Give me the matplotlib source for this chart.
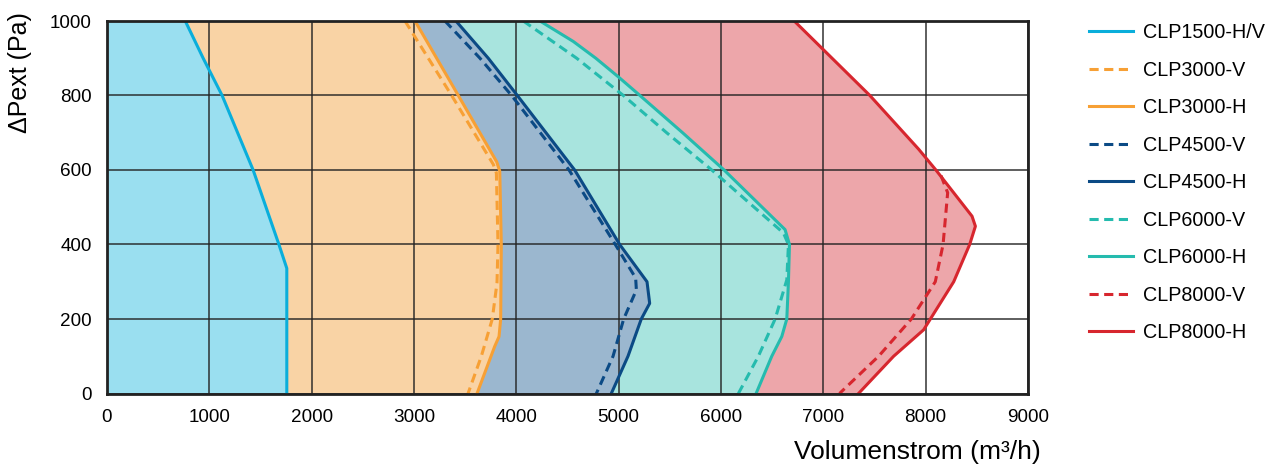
import matplotlib
matplotlib.use("Agg")
import matplotlib.pyplot as plt
from matplotlib.lines import Line2D

plt.rcParams['font.family'] = ['Liberation Sans', 'DejaVu Sans']

# ---- data (x = Volumenstrom m3/h, y = ΔPext Pa) ----
clp1500_x = [765, 940, 1125, 1428, 1680, 1757, 1757]
clp1500_y = [1000, 900, 800, 600, 400, 336, 0]

clp3000h_x = [3010, 3433, 3808, 3838, 3853, 3847, 3831, 3788, 3616]
clp3000h_y = [1000, 800, 622, 597, 400, 200, 153, 126, 0]
clp3000v_x = [2912, 3368, 3775, 3805, 3821, 3811, 3765, 3658, 3528]
clp3000v_y = [1000, 800, 615, 592, 400, 297, 200, 100, 0]

clp4500h_x = [3410, 3726, 4010, 4570, 5010, 5277, 5303, 5221, 5091, 4928]
clp4500h_y = [1000, 900, 800, 600, 400, 300, 242, 200, 100, 0]
clp4500v_x = [3303, 3645, 3954, 4515, 4967, 5166, 5173, 5049, 4945, 4782]
clp4500v_y = [1000, 900, 800, 600, 400, 310, 278, 200, 100, 0]

clp6000h_x = [4231, 4557, 4777, 4997, 5208, 5625, 6030, 6626, 6669, 6659, 6643, 6594, 6496, 6343]
clp6000h_y = [1000, 945, 900, 850, 800, 700, 600, 440, 400, 300, 200, 153, 100, 0]
clp6000v_x = [4068, 4590, 5046, 5469, 5910, 6610, 6659, 6643, 6529, 6365, 6170]
clp6000v_y = [1000, 900, 800, 700, 600, 431, 400, 305, 200, 100, 0]

clp8000h_x = [6716, 7455, 7931, 8100, 8453, 8486, 8430, 8274, 8046, 7980, 7687, 7344]
clp8000h_y = [1000, 800, 656, 600, 476, 449, 400, 300, 200, 171, 100, 0]
clp8000v_x = [8150, 8215, 8170, 8094, 7860, 7540, 7158]
clp8000v_y = [585, 539, 400, 300, 200, 100, 0]

x_ticks = [0, 1000, 2000, 3000, 4000, 5000, 6000, 7000, 8000, 9000]
y_ticks = [0, 200, 400, 600, 800, 1000]

# ---- colours ----
c1500 = '#0AAEDB'
c3000 = '#F7A035'
c4500 = '#0B4A85'
c6000 = '#25BBAE'
c8000 = '#D7262E'
f1500 = '#9ADFF0'
f3000 = '#F9D3A5'
f4500 = '#9BB7CF'
f6000 = '#A8E4DE'
f8000 = '#EDA6AA'

fig = plt.figure(figsize=(12.76, 4.69), dpi=100)
ax = fig.add_axes([107/1276, 1-393.5/469, (1028-107)/1276, (393.5-21)/469])

# fills (outermost first)
ax.fill_betweenx(clp8000h_y, 0, clp8000h_x, color=f8000, lw=0, zorder=0.5)
ax.fill_betweenx(clp6000h_y, 0, clp6000h_x, color=f6000, lw=0, zorder=0.6)
ax.fill_betweenx(clp4500h_y, 0, clp4500h_x, color=f4500, lw=0, zorder=0.7)
ax.fill_betweenx(clp3000h_y, 0, clp3000h_x, color=f3000, lw=0, zorder=0.8)
ax.fill_betweenx(clp1500_y, 0, clp1500_x, color=f1500, lw=0, zorder=0.9)

lw = 2.2
dash = (3, 1.8)
ax.plot(clp1500_x, clp1500_y, color=c1500, lw=lw, zorder=3, solid_joinstyle='round')
ax.plot(clp3000v_x, clp3000v_y, color=c3000, lw=lw, ls=(0, dash), zorder=3)
ax.plot(clp3000h_x, clp3000h_y, color=c3000, lw=lw, zorder=3, solid_joinstyle='round')
ax.plot(clp4500v_x, clp4500v_y, color=c4500, lw=lw, ls=(0, dash), zorder=3)
ax.plot(clp4500h_x, clp4500h_y, color=c4500, lw=lw, zorder=3, solid_joinstyle='round')
ax.plot(clp6000v_x, clp6000v_y, color=c6000, lw=lw, ls=(0, dash), zorder=3)
ax.plot(clp6000h_x, clp6000h_y, color=c6000, lw=lw, zorder=3, solid_joinstyle='round')
ax.plot(clp8000v_x, clp8000v_y, color=c8000, lw=lw, ls=(0, dash), zorder=3)
ax.plot(clp8000h_x, clp8000h_y, color=c8000, lw=lw, zorder=3, solid_joinstyle='round')

ax.set_xlim(0, 9000)
ax.set_ylim(0, 1000)
ax.set_xticks(x_ticks)
ax.set_yticks(y_ticks)
ax.set_xticklabels([str(t) for t in x_ticks])
ax.set_yticklabels([str(t) for t in y_ticks])
ax.tick_params(axis='both', length=0, labelsize=13.6, colors='black')
ax.tick_params(axis='y', pad=11)
ax.tick_params(axis='x', pad=11)
ax.grid(True, color='#222222', lw=1.2, alpha=0.85, zorder=2)
ax.set_axisbelow(False)
for s in ax.spines.values():
    s.set_color('#222222')
    s.set_linewidth(2.0)
    s.set_zorder(4)

fig.text(20/1276, 1-73/469, 'ΔPext (Pa)', rotation=90, ha='center', va='center', fontsize=18)
fig.text(1041/1276, 1-452/469, 'Volumenstrom (m³/h)', ha='right', va='center', fontsize=19)

labels = ['CLP1500-H/V', 'CLP3000-V', 'CLP3000-H', 'CLP4500-V', 'CLP4500-H',
          'CLP6000-V', 'CLP6000-H', 'CLP8000-V', 'CLP8000-H']
cols = [c1500, c3000, c3000, c4500, c4500, c6000, c6000, c8000, c8000]
styles = ['-', '--', '-', '--', '-', '--', '-', '--', '-']
handles = []
for c, st in zip(cols, styles):
    if st == '-':
        handles.append(Line2D([0], [0], color=c, lw=lw))
    else:
        handles.append(Line2D([0], [0], color=c, lw=lw, ls=(0, dash)))
fig.legend(handles, labels, loc='upper left', bbox_to_anchor=(1089/1276, 1-23/469),
           frameon=False, fontsize=14.2, handlelength=2.25, handletextpad=0.5,
           labelspacing=0.94, borderpad=0, borderaxespad=0)

fig.savefig('out.png', dpi=100)
